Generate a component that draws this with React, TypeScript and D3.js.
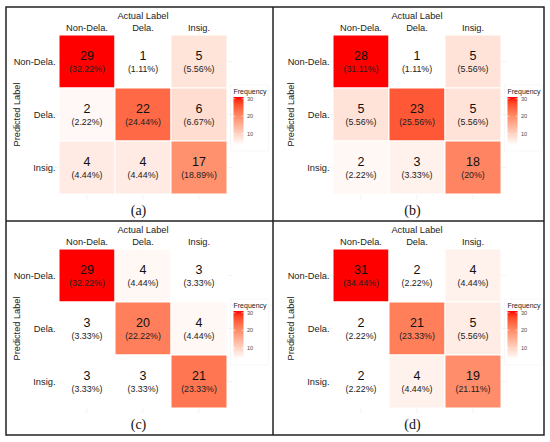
import React from 'react';
import * as d3 from 'd3';

// confusion matrices, rows = predicted, cols = actual
const categories = ['Non-Dela.', 'Dela.', 'Insig.'];
const matrixA = [[29, 1, 5], [2, 22, 6], [4, 4, 17]];
const matrixB = [[28, 1, 5], [5, 23, 5], [2, 3, 18]];
const matrixC = [[29, 4, 3], [3, 20, 4], [3, 3, 21]];
const matrixD = [[31, 2, 4], [2, 21, 5], [2, 4, 19]];
const captions = ['(a)', '(b)', '(c)', '(d)'];
const legendTicks = [10, 20, 30];
const legendDomain = [3.5, 31];

const W = 550;
const H = 442;
const sans = '"Liberation Sans", Arial, Helvetica, sans-serif';
const serif = '"Liberation Serif", "Times New Roman", serif';

const interp = d3.interpolateLab('white', 'red');

const fmtPct = (v: number, total: number) => `(${+((v / total) * 100).toFixed(2)}%)`;

type PanelProps = { matrix: number[][]; caption: string; x0: number; y0: number; id: string };

function Panel({ matrix, caption, x0, y0, id }: PanelProps) {
  const gridLeft = x0 + 53;
  const gridTop = y0 + 28;
  const gw = 168;
  const gh = 159;

  const x = d3.scaleBand().domain(categories).range([gridLeft, gridLeft + gw]);
  const y = d3.scaleBand().domain(categories).range([gridTop, gridTop + gh]);
  const flat = matrix.flat();
  const total = d3.sum(flat);
  const color = d3.scaleSequential(interp).domain(d3.extent(flat) as [number, number]);

  const pad = 0.1 * x.bandwidth();
  const cx = (c: string) => (x(c) as number) + x.bandwidth() / 2;
  const cy = (c: string) => (y(c) as number) + y.bandwidth() / 2;

  // legend
  const lx = gridLeft + gw + 6.5;
  const lw = 10;
  const ly = d3.scaleLinear().domain(legendDomain).range([gridTop + 110, gridTop + 62]);
  const gradId = `grad-${id}`;
  const stops = d3.range(0, 1.0001, 0.1);

  return (
    <g>
      <defs>
        <linearGradient id={gradId} x1="0" y1="1" x2="0" y2="0">
          {stops.map((t) => (
            <stop key={t} offset={t} stopColor={interp(t)} />
          ))}
        </linearGradient>
      </defs>

      {/* faint grid lines */}
      {categories.map((c) => (
        <g key={'g' + c} stroke="#ebebeb" strokeWidth={0.6}>
          <line x1={cx(c)} x2={cx(c)} y1={gridTop - pad} y2={gridTop + gh + pad} />
          <line x1={gridLeft - pad} x2={gridLeft + gw + pad} y1={cy(c)} y2={cy(c)} />
        </g>
      ))}

      {/* tiles */}
      {matrix.map((row, i) =>
        row.map((v, j) => (
          <g key={`${i}-${j}`}>
            <rect
              x={x(categories[j])}
              y={y(categories[i])}
              width={x.bandwidth()}
              height={y.bandwidth()}
              fill={color(v)}
              stroke="white"
              strokeWidth={1}
            />
            <text
              x={cx(categories[j])}
              y={cy(categories[i]) - 2}
              textAnchor="middle"
              fontFamily={sans}
              fontSize={12.5}
              fill="#111"
            >
              {v}
            </text>
            <text
              x={cx(categories[j])}
              y={cy(categories[i]) + 10}
              textAnchor="middle"
              fontFamily={sans}
              fontSize={8.8}
              fill="#222"
            >
              {fmtPct(v, total)}
            </text>
          </g>
        ))
      )}

      {/* axis labels */}
      <text x={gridLeft + gw / 2} y={gridTop - 16} textAnchor="middle" fontFamily={sans} fontSize={9.3} fill="#222">
        Actual Label
      </text>
      {categories.map((c) => (
        <text key={'cx' + c} x={cx(c)} y={gridTop - 4.5} textAnchor="middle" fontFamily={sans} fontSize={9.3} fill="#222">
          {c}
        </text>
      ))}
      {categories.map((c) => (
        <text key={'ry' + c} x={gridLeft - 3.5} y={cy(c) + 3.5} textAnchor="end" fontFamily={sans} fontSize={9.3} fill="#222">
          {c}
        </text>
      ))}
      <text
        transform={`translate(${x0 + 13.5},${gridTop + gh / 2}) rotate(-90)`}
        textAnchor="middle"
        fontFamily={sans}
        fontSize={9.2}
        fill="#222"
      >
        Predicted Label
      </text>

      {/* legend */}
      <rect x={lx - 3} y={gridTop + 50} width={38} height={66} fill="none" stroke="#f2f2f2" strokeWidth={0.6} />
      <text x={lx} y={gridTop + 59} fontFamily={sans} fontSize={7} fill="#222">
        Frequency
      </text>
      <rect x={lx} y={ly(legendDomain[1])} width={lw} height={ly(legendDomain[0]) - ly(legendDomain[1])} fill={`url(#${gradId})`} />
      {legendTicks.map((t) => (
        <g key={'lt' + t}>
          <line x1={lx} x2={lx + 2} y1={ly(t)} y2={ly(t)} stroke="white" strokeWidth={0.6} />
          <line x1={lx + lw - 2} x2={lx + lw} y1={ly(t)} y2={ly(t)} stroke="white" strokeWidth={0.6} />
          <text x={lx + lw + 3.5} y={ly(t) + 2} fontFamily={sans} fontSize={5.6} fill="#4d4d4d">
            {t}
          </text>
        </g>
      ))}

      {/* caption */}
      <text x={gridLeft + gw / 2 - 4.5} y={y0 + 207.5} textAnchor="middle" fontFamily={serif} fontSize={14} fill="#111">
        {caption}
      </text>
    </g>
  );
}

export default function App() {
  const matrices = [matrixA, matrixB, matrixC, matrixD];
  const origins = [
    [6, 7],
    [280, 7],
    [6, 221],
    [280, 221],
  ];
  return (
    <svg
      width={W}
      height={H}
      style={{ position: 'absolute', left: 0, top: 0, display: 'block', background: 'white' }}
    >
      <rect x={0} y={0} width={W} height={H} fill="white" />
      {matrices.map((m, i) => (
        <Panel key={i} id={String(i)} matrix={m} caption={captions[i]} x0={origins[i][0]} y0={origins[i][1]} />
      ))}
      <g stroke="#222" strokeWidth={1.5} fill="none">
        <rect x={6} y={7} width={538} height={428} />
        <line x1={273} x2={273} y1={7} y2={435} />
        <line x1={6} x2={544} y1={221} y2={221} />
      </g>
    </svg>
  );
}
